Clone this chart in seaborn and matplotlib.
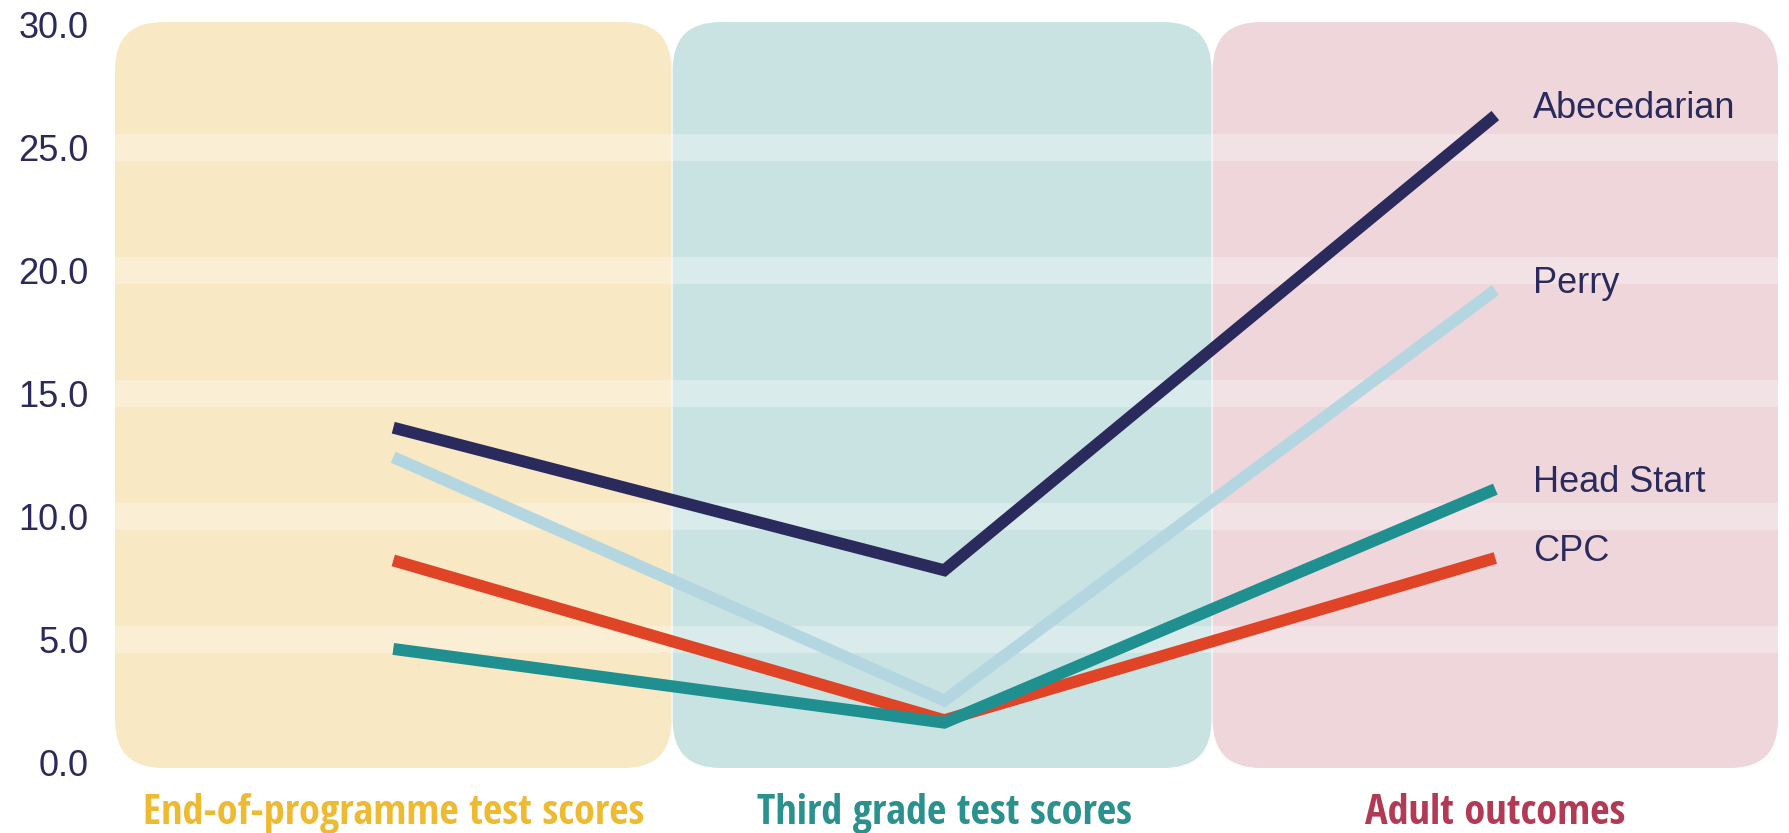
import pandas as pd
import matplotlib.pyplot as plt
import seaborn as sns
from matplotlib.patches import FancyBboxPatch

# data
stages = ['End-of-programme test scores', 'Third grade test scores', 'Adult outcomes']
programmes = ['CPC', 'Head Start', 'Perry', 'Abecedarian']
cpc = [8.2, 1.7, 8.3]
head_start = [4.6, 1.6, 11.1]
perry = [12.4, 2.5, 19.2]
abecedarian = [13.6, 7.8, 26.3]
yticks = [0, 5, 10, 15, 20, 25, 30]

sns.set_style('white')
plt.rcParams['font.family'] = ['Liberation Sans', 'DejaVu Sans']
narrow = ['Liberation Sans Narrow', 'Arial Narrow', 'Open Sans Condensed',
          'IBM Plex Sans Condensed', 'DejaVu Sans']

navy = '#2B2A5C'
palette = {'Abecedarian': navy, 'Perry': '#B3D6E0',
           'Head Start': '#1F8F8F', 'CPC': '#E04427'}
panel_colors = ['#F8E8C4', '#C9E3E2', '#EFD6DB']
stage_colors = ['#EDBA32', '#2A918E', '#B23A55']

rows = []
for name, vals in zip(programmes, [cpc, head_start, perry, abecedarian]):
    for i, v in enumerate(vals):
        rows.append({'stage': i, 'programme': name, 'score': v})
df = pd.DataFrame(rows)

fig = plt.figure(figsize=(17.9, 8.33), dpi=100)
ax = fig.add_axes([115 / 1790, 65 / 833, 1663 / 1790, 746 / 833])
x0, x1 = -0.505, 2.513
y0, y1 = -0.244, 30.105
ax.set_xlim(x0, x1)
ax.set_ylim(y0, y1)

# rounded background panels, one per stage
edges = [(-0.505, 0.505), (0.507, 1.485), (1.487, 2.513)]
aspect = (551 / 24.58)
for (a, b), c in zip(edges, panel_colors):
    p = FancyBboxPatch((a, y0), b - a, y1 - y0,
                       boxstyle='round,pad=0,rounding_size=0.087',
                       mutation_aspect=aspect, fc=c, ec='none',
                       zorder=0, clip_on=False)
    ax.add_patch(p)

# wide translucent grid bands
ax.hlines(yticks[1:-1], x0, x1, colors='white', alpha=0.3,
          linewidth=19.4, zorder=1)

sns.lineplot(data=df, x='stage', y='score', hue='programme',
             hue_order=programmes, palette=palette, linewidth=8.6,
             legend=False, ax=ax, zorder=3,
             solid_capstyle='butt', solid_joinstyle='miter')

for name, vals in zip(programmes, [cpc, head_start, perry, abecedarian]):
    ax.annotate(name, xy=(2, vals[-1]), xytext=(27, 5),
                textcoords='offset points', va='center', ha='left',
                fontsize=26, color=navy, zorder=4)

ax.set_yticks(yticks)
ax.set_yticklabels([f'{t:.1f}' for t in yticks], fontsize=26, color=navy)
ax.set_xticks([0, 1, 2])
ax.set_xticklabels(stages, fontsize=30.5, fontweight='bold', family=narrow)
for lab, c in zip(ax.get_xticklabels(), stage_colors):
    lab.set_color(c)
ax.tick_params(axis='y', length=0, pad=19)
ax.tick_params(axis='x', length=0, pad=18)
ax.set_xlabel('')
ax.set_ylabel('')
sns.despine(ax=ax, left=True, bottom=True)

fig.savefig('out.png', dpi=100)
